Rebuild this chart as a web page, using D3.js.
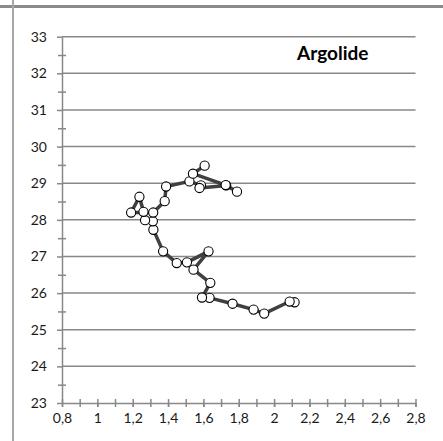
<!DOCTYPE html>
<html>
<head>
<meta charset="utf-8">
<script src="https://cdn.jsdelivr.net/npm/d3@7"></script>
<style>
  html, body { margin: 0; padding: 0; background: #fff; }
  svg { display: block; font-family: Lato, "Open Sans", sans-serif; }
</style>
</head>
<body>
<svg id="chart" width="443" height="441"></svg>
<script>
// Argolide trajectory: x and y coordinates of each sample, in path order
const xValues = [2.116, 2.088, 1.944, 1.884, 1.765, 1.635, 1.592, 1.639, 1.544, 1.629,
                 1.507, 1.449, 1.372, 1.317, 1.314, 1.270, 1.261, 1.238, 1.191, 1.316,
                 1.381, 1.389, 1.521, 1.586, 1.578, 1.729, 1.790, 1.726, 1.541, 1.607];
const yValues = [25.75, 25.77, 25.44, 25.55, 25.71, 25.87, 25.88, 26.28, 26.64, 27.14,
                 26.84, 26.82, 27.14, 27.73, 27.96, 27.99, 28.22, 28.63, 28.20, 28.20,
                 28.51, 28.91, 29.05, 28.94, 28.87, 28.94, 28.77, 28.95, 29.26, 29.48];
const xTickLabels = [0.8, 1, 1.2, 1.4, 1.6, 1.8, 2, 2.2, 2.4, 2.6, 2.8];
const yTickLabels = [23, 24, 25, 26, 27, 28, 29, 30, 31, 32, 33];
const title = "Argolide";

const points = xValues.map((x, i) => ({ x, y: yValues[i] }));

const svg = d3.select("#chart");
const gray = "#888888";

// frame: heavy rule across the top, thin rule down the left
svg.append("line").attr("x1", 0).attr("x2", 443).attr("y1", 6.5).attr("y2", 6.5)
  .attr("stroke", "#8a8a8a").attr("stroke-width", 3);
svg.append("line").attr("x1", 13).attr("x2", 13).attr("y1", 0).attr("y2", 441)
  .attr("stroke", "#a6a6a6").attr("stroke-width", 2);

const x = d3.scaleLinear().domain([0.8, 2.8]).range([62, 415.5]);
const y = d3.scaleLinear().domain([23, 33]).range([403, 36.7]);

const locale = d3.formatLocale({ decimal: ",", thousands: ".", grouping: [3], currency: ["", ""] });
const fmt = locale.format("~g");

// horizontal gridlines
svg.append("g")
  .selectAll("line")
  .data(yTickLabels.filter(v => v !== 23))
  .join("line")
  .attr("x1", x(0.8)).attr("x2", x(2.8))
  .attr("y1", d => y(d)).attr("y2", d => y(d))
  .attr("stroke", gray).attr("stroke-width", 1.5);

// minor ticks (half and tenth steps) crossing each axis
const yMinor = d3.range(23.5, 33, 1);
const xMinor = d3.range(0, 21).map(i => 0.8 + i * 0.1);

function styleAxis(g) {
  g.select(".domain").attr("stroke", gray).attr("stroke-width", 1.5);
  g.selectAll(".tick line").attr("stroke", gray).attr("stroke-width", 1.5);
}

svg.append("g").attr("transform", `translate(${x(0.8)},0)`)
  .call(d3.axisLeft(y).tickValues(yMinor).tickSize(4).tickFormat(""))
  .call(styleAxis).call(g => g.select(".domain").remove());
svg.append("g").attr("transform", `translate(${x(0.8)},0)`)
  .call(d3.axisRight(y).tickValues(yMinor).tickSize(4).tickFormat(""))
  .call(styleAxis).call(g => g.select(".domain").remove());

svg.append("g").attr("transform", `translate(0,${y(23)})`)
  .call(d3.axisBottom(x).tickValues(xMinor).tickSize(4).tickFormat(""))
  .call(styleAxis).call(g => g.select(".domain").remove());
svg.append("g").attr("transform", `translate(0,${y(23)})`)
  .call(d3.axisTop(x).tickValues(xMinor).tickSize(4).tickFormat(""))
  .call(styleAxis).call(g => g.select(".domain").remove());

// main y axis with labels
svg.append("g").attr("transform", `translate(${x(0.8)},0)`)
  .call(d3.axisLeft(y).tickValues(yTickLabels).tickSize(5).tickPadding(10).tickSizeOuter(0).tickFormat(fmt))
  .call(styleAxis)
  .call(g => g.selectAll("text").attr("fill", "#1a1a1a").attr("font-size", 14)
    .attr("font-family", "Lato, sans-serif"));

// main x axis with labels
svg.append("g").attr("transform", `translate(0,${y(23)})`)
  .call(d3.axisBottom(x).tickValues(xTickLabels).tickSize(4).tickPadding(6).tickSizeOuter(0).tickFormat(fmt))
  .call(styleAxis)
  .call(g => g.selectAll("text").attr("fill", "#1a1a1a").attr("font-size", 14)
    .attr("font-family", "Lato, sans-serif"));

// trajectory line
svg.append("path")
  .datum(points)
  .attr("fill", "none")
  .attr("stroke", "#404040")
  .attr("stroke-width", 3.5)
  .attr("stroke-linejoin", "round")
  .attr("d", d3.line().x(d => x(d.x)).y(d => y(d.y)));

// sample markers
svg.append("g")
  .selectAll("circle")
  .data(points)
  .join("circle")
  .attr("cx", d => x(d.x))
  .attr("cy", d => y(d.y))
  .attr("r", 4.6)
  .attr("fill", "#fff")
  .attr("stroke", "#000")
  .attr("stroke-width", 1.1);

// series title
svg.append("text")
  .attr("x", 297).attr("y", 60)
  .attr("font-family", "Lato, sans-serif")
  .attr("font-weight", "bold")
  .attr("font-size", 19)
  .attr("fill", "#000")
  .text(title);
</script>
</body>
</html>
